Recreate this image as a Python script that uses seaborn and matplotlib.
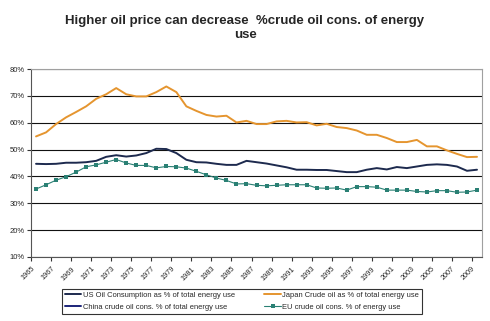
import numpy as np
import pandas as pd
import matplotlib
matplotlib.use("Agg")
import matplotlib.pyplot as plt
import seaborn as sns

years = list(range(1965, 2010))
us = [44.7, 44.6, 44.7, 45.1, 45.1, 45.3, 45.8, 47.3, 47.9, 47.4, 47.8, 48.7, 50.3, 50.2, 48.7,
      46.2, 45.3, 45.2, 44.7, 44.3, 44.3, 45.8, 45.3, 44.8, 44.1, 43.4, 42.5, 42.5, 42.4, 42.4,
      42.0, 41.6, 41.6, 42.5, 43.1, 42.6, 43.5, 43.1, 43.7, 44.3, 44.5, 44.3, 43.7, 42.1, 42.5]
japan = [54.9, 56.4, 59.5, 62.0, 64.0, 66.1, 68.9, 70.6, 72.9, 70.6, 69.8, 69.8, 71.4, 73.5, 71.4,
         66.1, 64.4, 62.9, 62.3, 62.6, 60.1, 60.7, 59.5, 59.5, 60.5, 60.7, 60.1, 60.2, 59.0, 59.6,
         58.4, 58.0, 57.1, 55.5, 55.5, 54.3, 52.8, 52.8, 53.6, 51.2, 51.2, 49.7, 48.4, 47.2, 47.3]
china = []
eu = [35.3, 36.9, 38.6, 39.9, 41.6, 43.6, 44.3, 45.3, 46.3, 45.0, 44.1, 44.1, 43.2, 43.7, 43.6,
      43.1, 41.9, 40.6, 39.4, 38.5, 37.2, 37.3, 36.7, 36.5, 36.7, 36.9, 36.9, 36.9, 35.7, 35.6,
      35.7, 34.9, 36.2, 36.2, 36.0, 34.9, 34.9, 34.9, 34.4, 34.2, 34.7, 34.7, 34.1, 34.2, 34.9]

labels = {
    "us": "US Oil Consumption as % of total energy use",
    "japan": "Japan Crude oil as % of total energy use",
    "china": "China crude oil cons. % of total energy use",
    "eu": "EU crude oil cons. % of energy use",
}
title = "Higher oil price can decrease  %crude oil cons. of energy\nuse"

sns.set_theme(style="white")
plt.rcParams['font.family'] = ['Liberation Sans', 'DejaVu Sans']

fig = plt.figure(figsize=(4.9, 3.21), dpi=100)
ax = fig.add_axes([0.0633, 0.1994, 0.9204, 0.5856])

idx = np.arange(len(years))
c_us, c_jp, c_cn, c_eu = "#1d2a4e", "#e5952f", "#1b2479", "#2a8074"

sns.lineplot(x=idx, y=np.array(us) / 100, ax=ax, color=c_us, lw=1.4, label=labels["us"])
sns.lineplot(x=idx, y=np.array(japan) / 100, ax=ax, color=c_jp, lw=1.4, label=labels["japan"])
ax.plot(np.arange(len(china)), np.array(china, dtype=float) / 100, color=c_cn, lw=1.4,
        label=labels["china"])
sns.lineplot(x=idx, y=np.array(eu) / 100, ax=ax, color=c_eu, lw=0.8, marker="s",
             markersize=3.2, markeredgewidth=0, label=labels["eu"])

ax.set_xlim(-0.5, len(years) - 0.5)
ax.set_ylim(0.10, 0.80)
ax.set_yticks(np.arange(0.1, 0.81, 0.1))
ax.set_yticklabels([f"{int(round(v*100))}%" for v in np.arange(0.1, 0.81, 0.1)], fontsize=5.5)
tick_pos = [i - 0.5 for i in range(0, len(years), 2)]
ax.set_xticks(tick_pos)
ax.set_xticklabels([str(years[i]) for i in range(0, len(years), 2)], fontsize=5.2,
                   rotation=45, ha="right", rotation_mode="anchor")
ax.tick_params(axis="both", length=3, width=0.8, color="#333333", pad=1.5, direction="out")
ax.tick_params(axis="x", pad=3)
ax.xaxis.set_ticks_position("bottom")
ax.yaxis.set_ticks_position("left")
ax.grid(axis="y", color="#111111", lw=0.8)
ax.grid(axis="x", visible=False)
ax.set_xlabel("")
ax.set_ylabel("")
for s in ["top", "right"]:
    ax.spines[s].set_color("#a0a0a0")
    ax.spines[s].set_linewidth(0.8)
for s in ["left", "bottom"]:
    ax.spines[s].set_color("#555555")
    ax.spines[s].set_linewidth(0.8)

handles, labs = ax.get_legend_handles_labels()
ax.get_legend().remove()
order = [0, 2, 1, 3]
leg = fig.legend([handles[i] for i in order], [labs[i] for i in order], ncol=2,
                 loc="center", bbox_to_anchor=(0.494, 0.062), fontsize=5.4,
                 frameon=True, fancybox=False, edgecolor="black", handlelength=2.2,
                 handletextpad=0.2, columnspacing=3.9, borderpad=0.4, labelspacing=0.6)
leg.get_frame().set_linewidth(0.8)

fig.text(0.5, 0.913, title, ha="center", va="center", fontsize=9.5, fontweight="bold",
         linespacing=1.25)

fig.savefig("out.png", dpi=100, facecolor="white")
